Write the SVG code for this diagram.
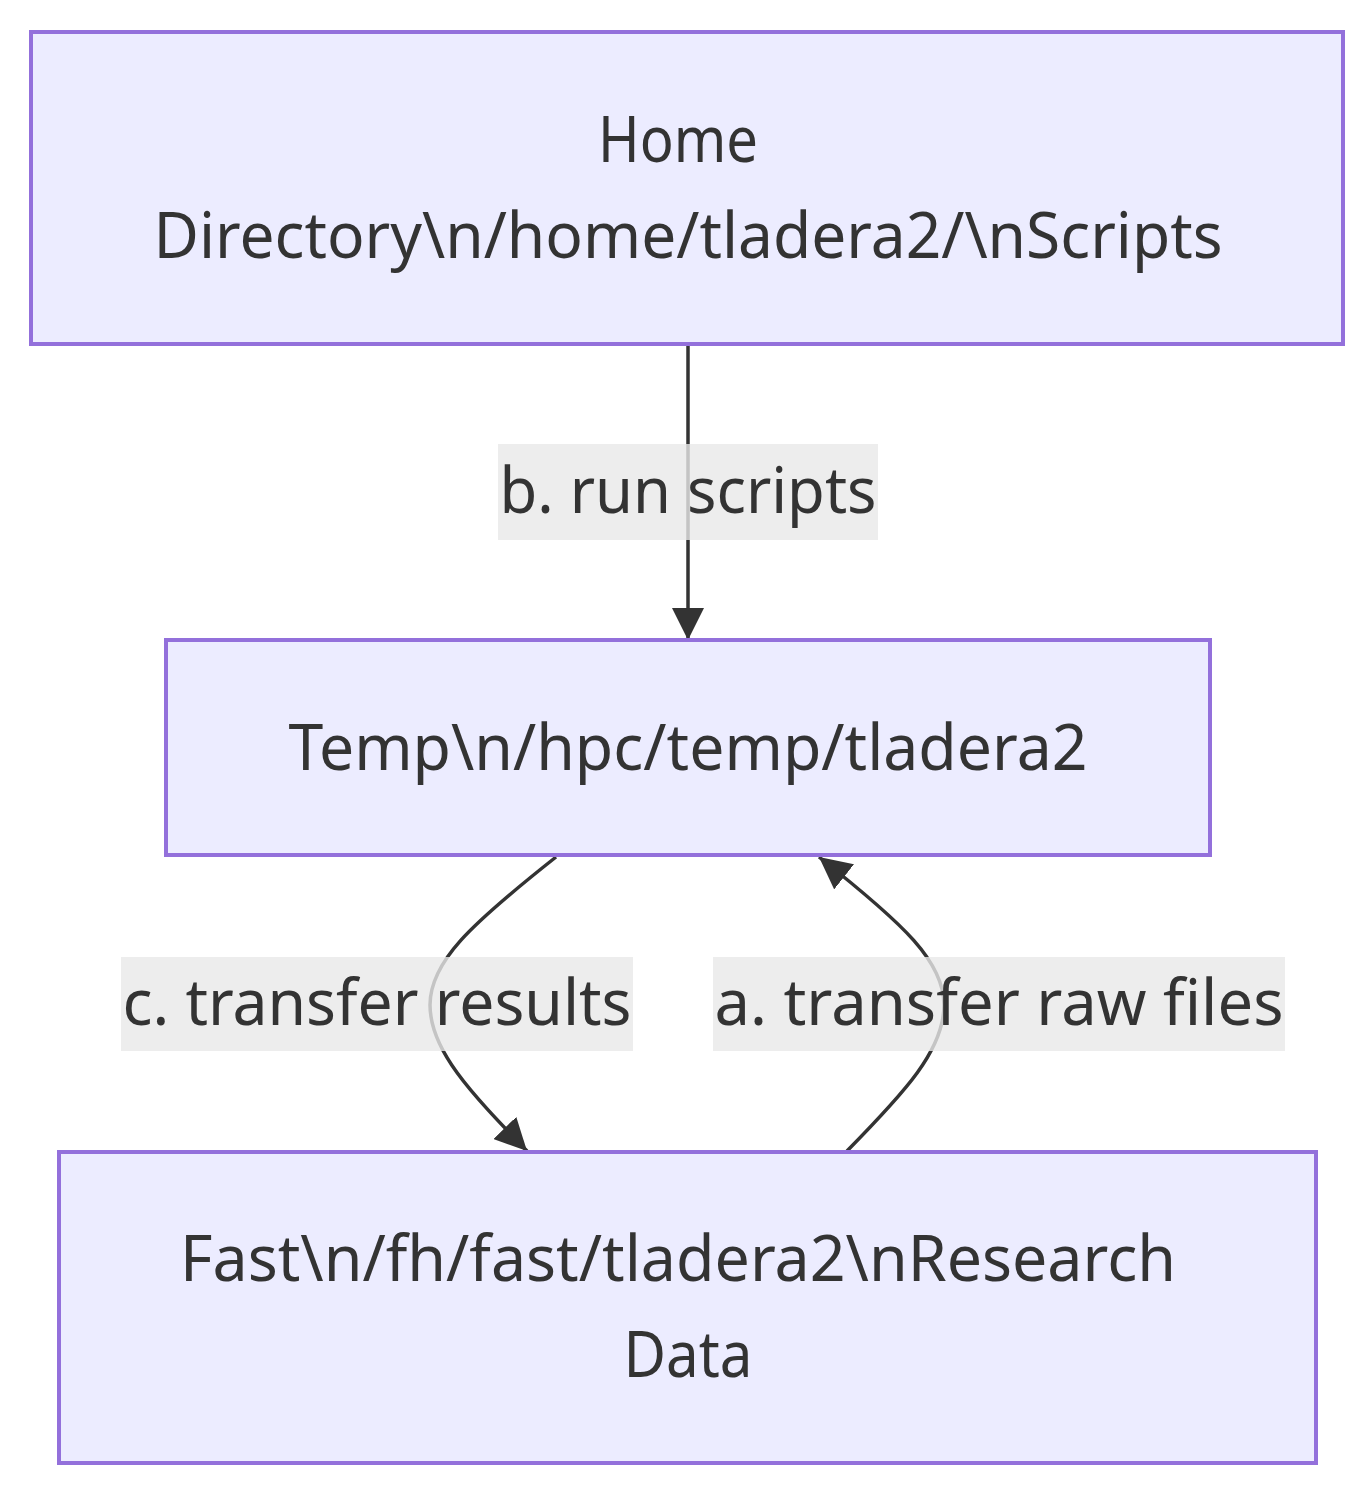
<svg xmlns="http://www.w3.org/2000/svg" width="1372" height="1496" viewBox="0 0 1372 1496">
<style>
.node rect{fill:#ECECFF;stroke:#9370DB;stroke-width:4}
.t{font-family:"Noto Sans","Open Sans","DejaVu Sans",sans-serif;font-size:64px;fill:#333;text-anchor:middle}
.edge{fill:none;stroke:#333;stroke-width:3.5}
.lbg{fill:rgba(232,232,232,0.8)}
</style>
<defs>
<marker id="arr" viewBox="0 0 10 10" refX="10" refY="5" markerWidth="32" markerHeight="32" markerUnits="userSpaceOnUse" orient="auto">
<path d="M0,0 L10,5 L0,10 z" fill="#333"/>
</marker>
</defs>
<rect width="1372" height="1496" fill="#fff"/>
<g id="connectors">
<path class="edge" d="M688,346 L688,640" marker-end="url(#arr)"/>
<path class="edge" d="M556,857 C470,925 430,962 430,1005 C430,1050 470,1092 527,1151" marker-end="url(#arr)"/>
<path class="edge" d="M847,1151 C905,1092 944,1050 944,1005 C944,962 905,925 819,857" marker-end="url(#arr)"/>
</g>
<g id="home" class="node">
<rect x="31" y="32" width="1312" height="312"/>
<text class="t" x="678" y="162" textLength="160" lengthAdjust="spacingAndGlyphs">Home</text>
<text class="t" x="688" y="258" textLength="1069" lengthAdjust="spacingAndGlyphs">Directory\n/home/tladera2/\nScripts</text>
</g>
<g id="temp" class="node">
<rect x="166" y="640" width="1044" height="215"/>
<text class="t" x="688" y="770" textLength="799" lengthAdjust="spacingAndGlyphs">Temp\n/hpc/temp/tladera2</text>
</g>
<g id="fast" class="node">
<rect x="59" y="1152" width="1257" height="311"/>
<text class="t" x="678" y="1281" textLength="996" lengthAdjust="spacingAndGlyphs">Fast\n/fh/fast/tladera2\nResearch</text>
<text class="t" x="688" y="1377" textLength="129" lengthAdjust="spacingAndGlyphs">Data</text>
</g>
<g id="edge-labels">
<g id="label-b">
<rect class="lbg" x="498" y="444" width="380" height="96"/>
<text class="t" x="688" y="513" textLength="377" lengthAdjust="spacingAndGlyphs">b. run scripts</text>
</g>
<g id="label-c">
<rect class="lbg" x="121" y="957" width="512" height="94"/>
<text class="t" x="377" y="1025" textLength="509" lengthAdjust="spacingAndGlyphs">c. transfer results</text>
</g>
<g id="label-a">
<rect class="lbg" x="713" y="957" width="572" height="94"/>
<text class="t" x="999" y="1025" textLength="569" lengthAdjust="spacingAndGlyphs">a. transfer raw files</text>
</g>
</g>
</svg>
